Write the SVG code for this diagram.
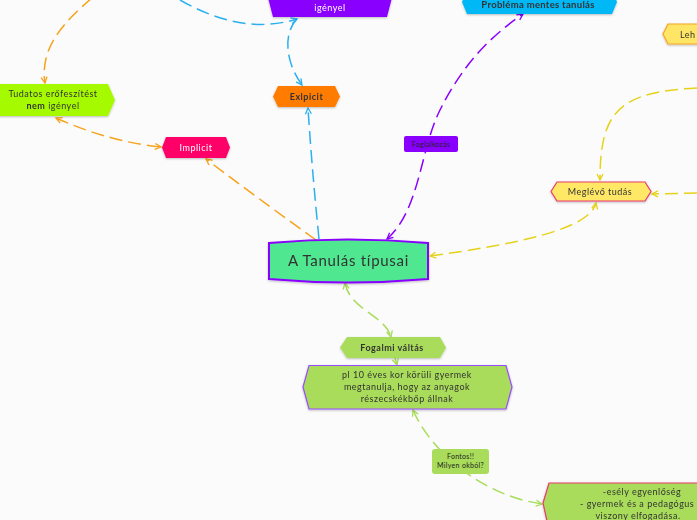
<svg xmlns="http://www.w3.org/2000/svg" width="697" height="520" viewBox="0 0 697 520">
<style>
text{font-family:Lato,"Noto Sans","DejaVu Sans",sans-serif;fill:#333;text-anchor:middle}
.c{fill:none;stroke-width:1.5;stroke-dasharray:13 6}
.sm{font-size:9px;letter-spacing:0.5px}
.xs{font-size:7px;fill:#222;letter-spacing:0.3px}
.b{font-weight:bold}
.w{fill:#fff}
.st{text-anchor:start}
.n{filter:url(#sh)}
</style>
<defs>
<filter id="sh" x="-20%" y="-30%" width="140%" height="170%"><feDropShadow dx="0" dy="1" stdDeviation="1" flood-color="#000" flood-opacity="0.25"/></filter>
<marker id="mo" viewBox="0 0 8 8" refX="7" refY="4" markerWidth="8" markerHeight="8" markerUnits="userSpaceOnUse" orient="auto-start-reverse"><path d="M1,1 L7,4 L1,7" fill="none" stroke="#f5a31a" stroke-width="1.3"/></marker>
<marker id="mb" viewBox="0 0 8 8" refX="7" refY="4" markerWidth="8" markerHeight="8" markerUnits="userSpaceOnUse" orient="auto-start-reverse"><path d="M1,1 L7,4 L1,7" fill="none" stroke="#2ab0ee" stroke-width="1.3"/></marker>
<marker id="mp" viewBox="0 0 8 8" refX="7" refY="4" markerWidth="8" markerHeight="8" markerUnits="userSpaceOnUse" orient="auto-start-reverse"><path d="M1,1 L7,4 L1,7" fill="none" stroke="#8a00ff" stroke-width="1.3"/></marker>
<marker id="my" viewBox="0 0 8 8" refX="7" refY="4" markerWidth="8" markerHeight="8" markerUnits="userSpaceOnUse" orient="auto-start-reverse"><path d="M1,1 L7,4 L1,7" fill="none" stroke="#e6d21a" stroke-width="1.3"/></marker>
<marker id="mg" viewBox="0 0 8 8" refX="7" refY="4" markerWidth="8" markerHeight="8" markerUnits="userSpaceOnUse" orient="auto-start-reverse"><path d="M1,1 L7,4 L1,7" fill="none" stroke="#a8dc5a" stroke-width="1.3"/></marker>
</defs>
<rect width="697" height="520" fill="#fbfbfb"/>
<g id="connectors">
<path class="c" stroke="#f5a31a" d="M316,240 Q260,200 206,159" marker-end="url(#mo)"/>
<path class="c" stroke="#f5a31a" d="M56,118 Q110,142 161,147" marker-start="url(#mo)" marker-end="url(#mo)"/>
<path class="c" stroke="#f5a31a" d="M92,-2 C60,25 40,50 45,83" marker-end="url(#mo)"/>
<path class="c" stroke="#2ab0ee" d="M319,239 Q312,170 308,108" marker-end="url(#mb)"/>
<path class="c" stroke="#2ab0ee" d="M180,0 C215,20 255,32 297,19" marker-end="url(#mb)"/>
<path class="c" stroke="#2ab0ee" d="M297,19 C284,32 284,60 302,85" marker-end="url(#mb)"/>
<path class="c" stroke="#8a00ff" d="M387,239 C420,210 420,150 440,110 C460,70 485,40 523,14" marker-start="url(#mp)" marker-end="url(#mp)"/>
<path class="c" stroke="#e6d21a" d="M430,256 C510,245 590,230 596,203" marker-start="url(#my)" marker-end="url(#my)"/>
<path class="c" stroke="#e6d21a" d="M697,88 C620,92 600,110 600,180" marker-end="url(#my)"/>
<path class="c" stroke="#e6d21a" d="M697,193 L652,194" marker-end="url(#my)"/>
<path class="c" stroke="#a8dc5a" d="M345,283 C350,310 385,315 391,337" marker-start="url(#mg)" marker-end="url(#mg)"/>
<path class="c" stroke="#a8dc5a" d="M395,358 L397,365" marker-end="url(#mg)"/>
<path class="c" stroke="#a8dc5a" d="M413,410 C430,450 480,495 542,504" marker-start="url(#mg)" marker-end="url(#mg)"/>
<rect x="404" y="136" width="54" height="16" rx="2" fill="#8a00ff"/>
<text class="xs" x="431" y="146.5">Foglalkozás</text>
<rect x="432" y="449" width="57" height="25" rx="3" fill="#a8dc5a"/>
<text class="xs" x="460.5" y="459">Fontos!!</text>
<text class="xs" x="460.5" y="468">Milyen okból?</text>
</g>
<g id="center" class="n">
<path d="M269,243 Q348,236 428,243 L428,279 Q348,286 269,279 Z" fill="#50e890" stroke="#8a00ff" stroke-width="2"/>
<text x="348.5" y="266" font-size="15" letter-spacing="0.7">A Tanulás típusai</text>
</g>
<g id="igenyel" class="n">
<polygon points="266,-10 273,17 387,17 394,-10" fill="#8a00ff"/>
<text class="sm w" x="330" y="11">igényel</text>
</g>
<g id="problema" class="n">
<polygon points="462,2 467,14 612,14 617,2 612,-10 467,-10" fill="#00b8f5"/>
<text class="b" x="538" y="8" font-size="9.5" letter-spacing="0.3" fill="#111">Probléma mentes tanulás</text>
</g>
<g id="leh" class="n">
<polygon points="663,34 668,24 700,24 700,44 668,44" fill="#ffe566" stroke="#f5a623" stroke-width="1.2"/>
<text class="sm st" x="680" y="37.5">Leh</text>
</g>
<g id="meglevo" class="n">
<polygon points="551,191.5 557,182 645,182 651,191.5 645,201 557,201" fill="#ffe866" stroke="#ea3a6e" stroke-width="1.2"/>
<text class="sm" x="600" y="195">Meglévő tudás</text>
</g>
<g id="explicit" class="n">
<polygon points="273,96.5 278,86 335,86 340,96.5 335,107 278,107" fill="#ff7c00"/>
<text class="sm b" x="306.5" y="100" fill="#4a2300">Exlpicit</text>
</g>
<g id="implicit" class="n">
<polygon points="162,147.5 166,137 226,137 230,147.5 226,158 166,158" fill="#ff0068"/>
<text class="sm w" x="196" y="151">Implicit</text>
</g>
<g id="tudatos" class="n">
<polygon points="-10,84 108,84 115,100 108,116 -10,116" fill="#a6fa00"/>
<text class="sm" x="53" y="97">Tudatos erőfeszítést</text>
<text class="sm" x="53" y="109"><tspan class="b">nem</tspan> igényel</text>
</g>
<g id="fogalmi" class="n">
<polygon points="340,347.5 347,337 440,337 446,347.5 440,358 347,358" fill="#a8dc5a"/>
<text class="sm b" x="392" y="351">Fogalmi váltás</text>
</g>
<g id="pl10" class="n">
<polygon points="303,387 309,365.5 506,365.5 512,387 506,409 309,409" fill="#a8dc5a" stroke="#9a4cff" stroke-width="1.2"/>
<text class="sm" x="407" y="378">pl 10 éves kor körüli gyermek</text>
<text class="sm" x="407" y="390">megtanulja, hogy az anyagok</text>
<text class="sm" x="407" y="402">részecskékbőp állnak</text>
</g>
<g id="esely" class="n">
<polygon points="543,503 549,483 705,483 705,530 549,530" fill="#a8dc5a" stroke="#ea3a6e" stroke-width="1.2"/>
<text class="sm" x="642" y="495">-esély egyenlőség</text>
<text class="sm st" x="580" y="507">- gyermek és a pedagógus k</text>
<text class="sm" x="638" y="519">viszony elfogadása.</text>
</g>
</svg>
